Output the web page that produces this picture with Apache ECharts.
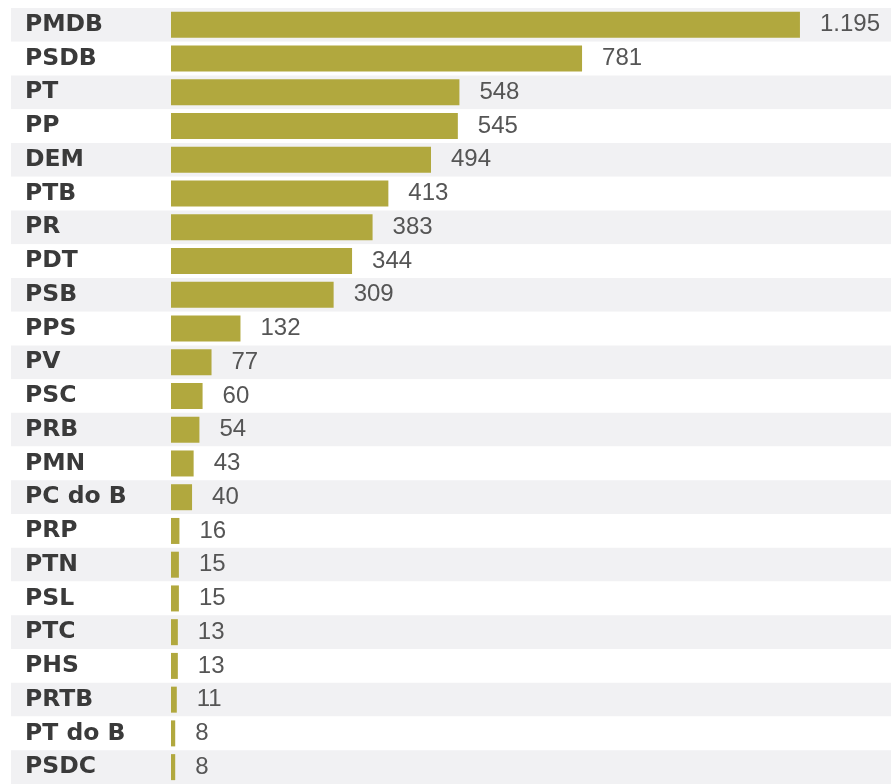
<!DOCTYPE html>
<html>
<head>
<meta charset="utf-8">
<script src="https://cdn.jsdelivr.net/npm/echarts@6/dist/echarts.min.js"></script>
<style>
html,body{margin:0;padding:0;background:#fff;}
#chart{width:891px;height:784px;}
</style>
</head>
<body>
<div id="chart"></div>
<script>
const parties = ["PMDB","PSDB","PT","PP","DEM","PTB","PR","PDT","PSB","PPS","PV","PSC","PRB","PMN","PC do B","PRP","PTN","PSL","PTC","PHS","PRTB","PT do B","PSDC"];
const seats = [1195,781,548,545,494,413,383,344,309,132,77,60,54,43,40,16,15,15,13,13,11,8,8];

function fmt(v){ return String(v).replace(/\B(?=(\d{3})+(?!\d))/g, "."); }

const chart = echarts.init(document.getElementById('chart'), null, {renderer:'canvas'});
chart.setOption({
  animation:false,
  backgroundColor:'#ffffff',
  grid:{left:11, right:0, top:8, bottom:-2, containLabel:false},
  xAxis:{
    type:'value', min:-304, max:1368,
    show:false, splitLine:{show:false}
  },
  yAxis:{
    type:'category', data:parties, inverse:true,
    axisLine:{show:false, onZero:false}, axisTick:{show:false},
    axisLabel:{inside:true, align:'left', margin:14, fontFamily:'DejaVu Sans', fontWeight:'bold', fontSize:23.5, color:'#3a3a3a'},
    splitArea:{show:true, interval:0, areaStyle:{color:['#f1f1f3','#ffffff']}},
    splitLine:{show:false}
  },
  series:[{
    type:'bar', data:seats, barWidth:26,
    itemStyle:{color:'#b1a83e'},
    label:{show:true, position:'right', distance:20, fontFamily:'Liberation Sans', fontSize:24, color:'#555555',
      formatter:function(p){return fmt(p.value);}}
  }]
});
</script>
</body>
</html>
